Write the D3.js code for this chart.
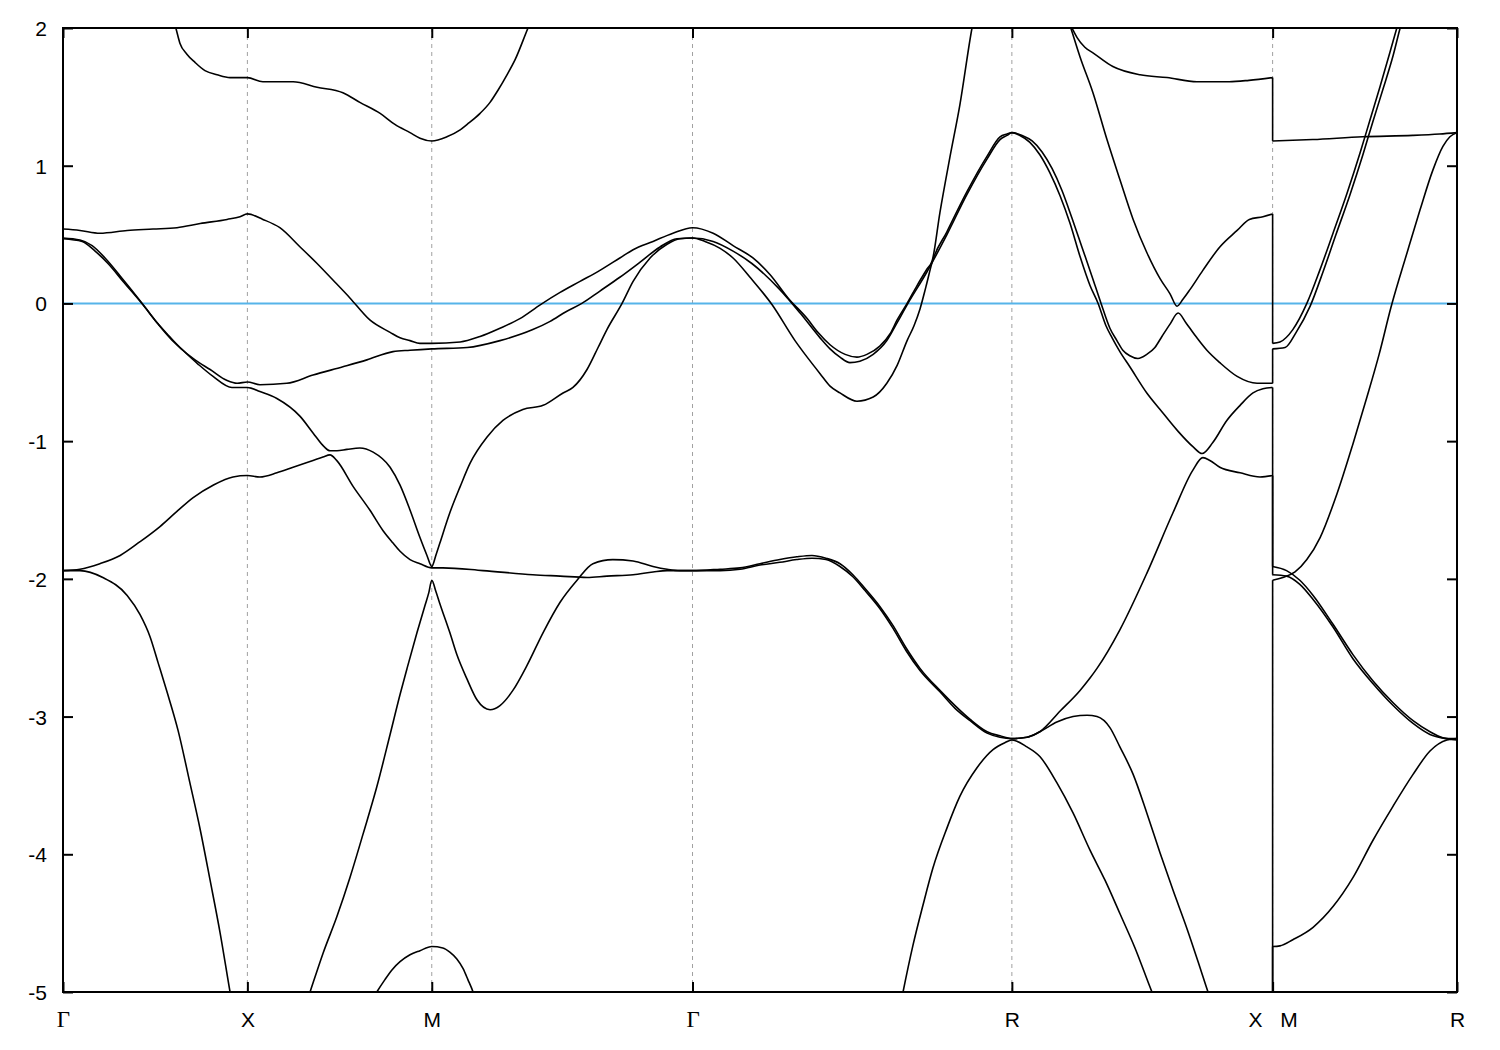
<!DOCTYPE html>
<html><head><meta charset="utf-8">
<script src="https://cdn.jsdelivr.net/npm/d3@7"></script>
<style>body{margin:0;background:#fff}</style>
</head><body>
<svg id="chart" width="1500" height="1050"></svg>
<script>
// high-symmetry path: Γ-X-M-Γ-R-X | M-R  (k-path distance)
const kTicks = [0, 0.5, 1.0, 1.7071, 2.5731, 3.2802, 3.7802];
const kLabels = ["Γ", "X", "M", "Γ", "R", "X\u00a0\u00a0\u00a0M", "R"];
const eTicks = [-5, -4, -3, -2, -1, 0, 1, 2];
const gridK = [0.5, 1.0, 1.7071, 2.5731, 3.2802];
const fermiLevel = 0;

// bands: [k, E(eV)] ; a repeated k marks the X|M discontinuity
const band1 = [[0,2.9],[0.290,2.15],[0.306,2.00],[0.317,1.89],[0.336,1.81],[0.358,1.75],[0.385,1.69],[0.418,1.66],[0.453,1.64],[0.5,1.64],
[0.542,1.61],[0.624,1.61],[0.689,1.57],[0.759,1.53],[0.805,1.46],[0.860,1.38],[0.900,1.30],[0.941,1.24],[0.968,1.20],[1.0,1.18],
[1.041,1.21],[1.077,1.26],[1.096,1.30],[1.131,1.38],[1.158,1.46],[1.180,1.55],[1.204,1.66],[1.226,1.77],[1.261,2.00],[1.280,2.12],
[1.7071,3.4],[2.5731,3.5],[2.717,2.10],[2.736,2.00],[2.750,1.93],[2.771,1.86],[2.793,1.82],[2.847,1.72],[2.921,1.66],[2.994,1.64],[3.075,1.61],[3.162,1.61],[3.216,1.62],[3.2802,1.64],
[3.2802,1.18],[3.389,1.19],[3.524,1.21],[3.660,1.22],[3.733,1.23],[3.7802,1.24]];

const band2 = [[0,0.54],[0.046,0.53],[0.100,0.51],[0.174,0.53],[0.244,0.54],[0.309,0.55],[0.372,0.58],[0.445,0.61],[0.480,0.63],[0.5,0.65],
[0.542,0.61],[0.588,0.55],[0.643,0.41],[0.689,0.29],[0.732,0.17],[0.778,0.04],[0.832,-0.12],[0.887,-0.21],[0.914,-0.25],[0.941,-0.27],[0.968,-0.29],[1.0,-0.29],
[1.077,-0.28],[1.131,-0.24],[1.185,-0.18],[1.239,-0.11],[1.294,-0.01],[1.348,0.08],[1.402,0.16],[1.456,0.24],[1.510,0.33],[1.546,0.39],[1.600,0.45],[1.654,0.51],[1.7071,0.55],
[1.763,0.51],[1.817,0.42],[1.871,0.33],[1.917,0.21],[1.966,0.04],[2.018,-0.11],[2.047,-0.21],[2.080,-0.30],[2.121,-0.37],[2.153,-0.39],[2.180,-0.37],[2.215,-0.31],[2.243,-0.22],[2.262,-0.12],[2.289,0.00],[2.316,0.13],[2.343,0.25],[2.357,0.31],
[2.378,0.66],[2.405,1.06],[2.432,1.44],[2.465,2.00],[2.487,2.28],[2.5731,3.0],[2.709,2.20],[2.733,2.00],[2.758,1.79],[2.793,1.53],[2.831,1.19],[2.866,0.90],[2.902,0.61],[2.939,0.37],[2.975,0.18],[3.002,0.07],[3.021,-0.02],[3.037,0.03],[3.056,0.10],[3.091,0.24],[3.137,0.41],[3.184,0.53],[3.217,0.61],[3.254,0.63],[3.2802,0.65],
[3.2802,-0.29],[3.300,-0.28],[3.335,-0.19],[3.373,0.00],[3.408,0.24],[3.444,0.51],[3.482,0.80],[3.517,1.09],[3.544,1.33],[3.571,1.57],[3.598,1.82],[3.617,2.00],[3.639,2.20],[3.7802,2.9]];

const band3 = [[0,0.475],[0.046,0.46],[0.079,0.42],[0.114,0.33],[0.155,0.20],[0.209,0.02],[0.249,-0.12],[0.282,-0.22],[0.317,-0.32],[0.358,-0.41],[0.399,-0.48],[0.445,-0.56],[0.472,-0.58],[0.5,-0.57],
[0.534,-0.59],[0.607,-0.58],[0.678,-0.52],[0.759,-0.46],[0.824,-0.41],[0.895,-0.35],[0.941,-0.34],[1.0,-0.33],
[1.096,-0.32],[1.185,-0.27],[1.274,-0.19],[1.321,-0.13],[1.364,-0.06],[1.407,0.00],[1.456,0.09],[1.510,0.19],[1.565,0.30],[1.619,0.41],[1.665,0.47],[1.7071,0.475],
[1.763,0.45],[1.817,0.38],[1.868,0.29],[1.944,0.10],[1.999,-0.07],[2.053,-0.25],[2.080,-0.33],[2.107,-0.39],[2.134,-0.43],[2.161,-0.42],[2.197,-0.37],[2.234,-0.27],[2.262,-0.14],[2.289,-0.01],[2.343,0.23],[2.397,0.50],[2.451,0.79],[2.506,1.05],[2.541,1.19],[2.560,1.22],[2.5731,1.24],
[2.601,1.22],[2.628,1.18],[2.655,1.10],[2.682,0.98],[2.709,0.82],[2.736,0.62],[2.763,0.41],[2.790,0.20],[2.815,0.00],[2.839,-0.18],[2.858,-0.27],[2.874,-0.34],[2.893,-0.38],[2.915,-0.40],[2.939,-0.37],[2.961,-0.32],[2.980,-0.24],[3.002,-0.15],[3.024,-0.07],[3.045,-0.14],[3.075,-0.25],[3.102,-0.34],[3.137,-0.43],[3.184,-0.53],[3.238,-0.58],[3.2802,-0.58],
[3.2802,-0.33],[3.314,-0.32],[3.344,-0.21],[3.382,-0.02],[3.417,0.23],[3.452,0.50],[3.490,0.79],[3.525,1.08],[3.552,1.32],[3.580,1.56],[3.607,1.80],[3.626,2.00],[3.653,2.24],[3.7802,3.0]];

const band4 = [[0,0.47],[0.052,0.45],[0.087,0.38],[0.122,0.29],[0.163,0.16],[0.217,-0.01],[0.258,-0.15],[0.290,-0.25],[0.325,-0.34],[0.366,-0.44],[0.407,-0.53],[0.458,-0.61],[0.5,-0.61],
[0.534,-0.64],[0.580,-0.69],[0.643,-0.82],[0.678,-0.94],[0.708,-1.04],[0.724,-1.07],[0.743,-1.07],[0.770,-1.06],[0.805,-1.05],[0.841,-1.08],[0.887,-1.19],[0.914,-1.32],[0.941,-1.50],[0.968,-1.70],[0.987,-1.83],[1.0,-1.91],
[1.011,-1.83],[1.022,-1.74],[1.049,-1.52],[1.077,-1.33],[1.104,-1.16],[1.150,-0.97],[1.193,-0.85],[1.247,-0.77],[1.302,-0.74],[1.356,-0.65],[1.383,-0.61],[1.421,-0.48],[1.451,-0.32],[1.475,-0.19],[1.516,0.00],[1.546,0.16],[1.592,0.33],[1.638,0.43],[1.673,0.47],[1.7071,0.475],
[1.741,0.45],[1.782,0.40],[1.817,0.33],[1.863,0.19],[1.923,-0.01],[1.985,-0.27],[2.018,-0.39],[2.053,-0.51],[2.080,-0.60],[2.107,-0.65],[2.153,-0.71],[2.197,-0.68],[2.234,-0.58],[2.262,-0.45],[2.289,-0.27],[2.308,-0.16],[2.324,-0.04],[2.340,0.12],[2.357,0.30],
[2.397,0.52],[2.451,0.81],[2.506,1.07],[2.541,1.21],[2.560,1.23],[2.5731,1.24],
[2.595,1.22],[2.622,1.17],[2.649,1.08],[2.676,0.95],[2.704,0.78],[2.731,0.58],[2.758,0.34],[2.785,0.13],[2.807,0.00],[2.828,-0.16],[2.845,-0.25],[2.866,-0.35],[2.893,-0.46],[2.939,-0.65],[2.975,-0.77],[3.021,-0.92],[3.064,-1.04],[3.089,-1.09],[3.118,-1.01],[3.156,-0.85],[3.192,-0.74],[3.227,-0.65],[3.254,-0.62],[3.2802,-0.61],
[3.2802,-1.91],[3.318,-1.94],[3.354,-2.01],[3.390,-2.12],[3.444,-2.33],[3.498,-2.55],[3.552,-2.74],[3.607,-2.90],[3.661,-3.03],[3.707,-3.11],[3.753,-3.16],[3.7802,-3.16]];

const band5 = [[0,-1.94],[0.046,-1.93],[0.100,-1.89],[0.155,-1.83],[0.209,-1.73],[0.263,-1.62],[0.309,-1.51],[0.353,-1.41],[0.407,-1.32],[0.461,-1.26],[0.5,-1.25],
[0.534,-1.26],[0.580,-1.23],[0.624,-1.19],[0.678,-1.14],[0.705,-1.115],[0.724,-1.10],[0.742,-1.14],[0.787,-1.33],[0.832,-1.50],[0.868,-1.65],[0.895,-1.74],[0.914,-1.80],[0.941,-1.86],[0.968,-1.89],[1.0,-1.92],
[1.030,-1.92],[1.139,-1.94],[1.274,-1.97],[1.348,-1.98],[1.421,-1.99],[1.475,-1.98],[1.546,-1.97],[1.600,-1.95],[1.638,-1.94],[1.673,-1.94],[1.7071,-1.94],
[1.782,-1.93],[1.836,-1.92],[1.890,-1.89],[1.944,-1.86],[1.990,-1.84],[2.031,-1.83],[2.069,-1.85],[2.107,-1.89],[2.142,-1.97],[2.175,-2.07],[2.215,-2.20],[2.251,-2.34],[2.286,-2.50],[2.324,-2.65],[2.378,-2.81],[2.419,-2.92],[2.460,-3.02],[2.506,-3.11],[2.541,-3.14],[2.5731,-3.16],
[2.614,-3.15],[2.649,-3.11],[2.704,-2.96],[2.758,-2.81],[2.785,-2.72],[2.804,-2.65],[2.866,-2.37],[2.939,-1.96],[3.010,-1.52],[3.064,-1.21],[3.091,-1.12],[3.110,-1.14],[3.137,-1.19],[3.192,-1.23],[3.246,-1.26],[3.2802,-1.25],
[3.2802,-1.97],[3.318,-1.98],[3.354,-2.04],[3.390,-2.15],[3.444,-2.35],[3.498,-2.58],[3.552,-2.76],[3.607,-2.92],[3.661,-3.05],[3.707,-3.13],[3.753,-3.16],[3.7802,-3.17]];

const band6 = [[0,-1.94],[0.046,-1.94],[0.108,-1.99],[0.174,-2.12],[0.209,-2.26],[0.236,-2.42],[0.258,-2.61],[0.282,-2.82],[0.312,-3.10],[0.344,-3.48],[0.372,-3.82],[0.399,-4.19],[0.426,-4.57],[0.453,-5.00],[0.5,-5.7],
[0.643,-5.22],[0.670,-5.00],[0.705,-4.72],[0.743,-4.45],[0.778,-4.17],[0.814,-3.85],[0.851,-3.51],[0.887,-3.13],[0.914,-2.84],[0.933,-2.65],[0.960,-2.39],[0.982,-2.19],[0.992,-2.10],[1.0,-2.01],
[1.011,-2.09],[1.022,-2.18],[1.049,-2.39],[1.068,-2.55],[1.096,-2.73],[1.123,-2.88],[1.158,-2.95],[1.185,-2.92],[1.220,-2.81],[1.258,-2.63],[1.302,-2.39],[1.348,-2.17],[1.394,-2.01],[1.437,-1.89],[1.491,-1.86],[1.546,-1.87],[1.600,-1.91],[1.638,-1.93],[1.673,-1.94],[1.7071,-1.94],
[1.782,-1.94],[1.836,-1.93],[1.890,-1.90],[1.944,-1.88],[1.990,-1.86],[2.031,-1.85],[2.069,-1.86],[2.107,-1.91],[2.142,-1.985],[2.175,-2.085],[2.215,-2.215],[2.251,-2.36],[2.286,-2.52],[2.324,-2.665],[2.378,-2.82],[2.419,-2.94],[2.460,-3.03],[2.506,-3.12],[2.541,-3.15],[2.5731,-3.16],
[2.614,-3.15],[2.649,-3.11],[2.695,-3.04],[2.739,-3.00],[2.777,-2.99],[2.804,-3.00],[2.839,-3.08],[2.866,-3.22],[2.902,-3.42],[2.939,-3.70],[2.975,-3.99],[3.010,-4.26],[3.048,-4.54],[3.083,-4.82],[3.105,-5.00],[3.2802,-5.8],
[3.2802,-2.01],[3.308,-1.99],[3.341,-1.95],[3.373,-1.86],[3.409,-1.70],[3.455,-1.38],[3.498,-1.02],[3.536,-0.68],[3.569,-0.37],[3.601,-0.03],[3.645,0.37],[3.680,0.68],[3.715,0.97],[3.742,1.14],[3.761,1.21],[3.7802,1.24]];

const band7 = [[0,-6.5],[0.5,-6.5],[0.792,-5.31],[0.851,-5.00],[0.873,-4.91],[0.892,-4.84],[0.914,-4.78],[0.941,-4.73],[0.968,-4.70],[1.0,-4.67],
[1.030,-4.68],[1.049,-4.71],[1.068,-4.76],[1.085,-4.83],[1.098,-4.91],[1.112,-5.00],[1.131,-5.17],[1.7071,-6.5],
[2.262,-5.22],[2.278,-5.00],[2.305,-4.66],[2.332,-4.37],[2.359,-4.10],[2.397,-3.81],[2.432,-3.58],[2.479,-3.37],[2.522,-3.24],[2.554,-3.19],[2.5731,-3.17],
[2.614,-3.22],[2.649,-3.29],[2.695,-3.48],[2.739,-3.70],[2.785,-3.97],[2.826,-4.19],[2.866,-4.43],[2.907,-4.68],[2.953,-5.00],[2.988,-5.22],[3.2802,-6.5],
[3.2802,-4.67],[3.300,-4.665],[3.335,-4.62],[3.390,-4.53],[3.444,-4.38],[3.498,-4.17],[3.552,-3.90],[3.607,-3.65],[3.661,-3.42],[3.707,-3.25],[3.753,-3.17],[3.7802,-3.16]];

const bands = [band1, band2, band3, band4, band5, band6, band7];

const W = 1500, H = 1050, L = 63, R = 1457, T = 28, B = 992;
const svg = d3.select("#chart");
const x = d3.scaleLinear().domain([0, 3.7802]).range([L, R]);
const y = d3.scaleLinear().domain([-5, 2]).range([B, T]);

svg.append("rect").attr("width", W).attr("height", H).attr("fill", "#fff");
svg.append("defs").append("clipPath").attr("id", "plotclip")
  .append("rect").attr("x", L).attr("y", T).attr("width", R - L).attr("height", B - T);

// dotted vertical grid at high-symmetry points
svg.append("g").selectAll("line").data(gridK).join("line")
  .attr("x1", d => x(d)).attr("x2", d => x(d))
  .attr("y1", T).attr("y2", B)
  .attr("stroke", "#a0a0a0").attr("stroke-width", 1).attr("stroke-dasharray", "4,4");

// Fermi level
svg.append("line")
  .attr("x1", x(0)).attr("x2", x(3.7802))
  .attr("y1", y(fermiLevel)).attr("y2", y(fermiLevel))
  .attr("stroke", "#56b4e9").attr("stroke-width", 2);

// bands
const gBands = svg.append("g").attr("clip-path", "url(#plotclip)");
const lineGen = d3.line().x(d => x(d[0])).y(d => y(d[1])).curve(d3.curveMonotoneX);
bands.forEach(b => {
  const segs = [[b[0]]];
  const jumps = [];
  for (let i = 1; i < b.length; i++) {
    if (b[i][0] === b[i - 1][0]) { jumps.push([b[i - 1], b[i]]); segs.push([b[i]]); }
    else segs[segs.length - 1].push(b[i]);
  }
  segs.forEach(s => {
    gBands.append("path").attr("d", lineGen(s)).attr("fill", "none")
      .attr("stroke", "#000").attr("stroke-width", 1.6).attr("stroke-linejoin", "round");
  });
  jumps.forEach(j => {
    gBands.append("line")
      .attr("x1", x(j[0][0])).attr("x2", x(j[1][0]))
      .attr("y1", y(j[0][1])).attr("y2", y(j[1][1]))
      .attr("stroke", "#000").attr("stroke-width", 1.6);
  });
});

// inward ticks on all four sides
const tickStyle = g => { g.select(".domain").remove(); g.selectAll(".tick line").attr("stroke", "#000").attr("stroke-width", 2); };
svg.append("g").attr("transform", `translate(${L},0)`).call(d3.axisLeft(y).tickValues(eTicks).tickSize(-10).tickFormat("")).call(tickStyle);
svg.append("g").attr("transform", `translate(${R},0)`).call(d3.axisRight(y).tickValues(eTicks).tickSize(-10).tickFormat("")).call(tickStyle);
svg.append("g").attr("transform", `translate(0,${B})`).call(d3.axisBottom(x).tickValues(kTicks).tickSize(-10).tickFormat("")).call(tickStyle);
svg.append("g").attr("transform", `translate(0,${T})`).call(d3.axisTop(x).tickValues(kTicks).tickSize(-10).tickFormat("")).call(tickStyle);

// frame
svg.append("rect").attr("x", L).attr("y", T).attr("width", R - L).attr("height", B - T)
  .attr("fill", "none").attr("stroke", "#000").attr("stroke-width", 2);

// tick labels (plain hyphen-minus as in the original)
const yAx = svg.append("g").attr("transform", `translate(${L},0)`)
  .call(d3.axisLeft(y).tickValues(eTicks).tickSize(0).tickPadding(16).tickFormat(d => String(d)));
yAx.select(".domain").remove();
yAx.selectAll("text").attr("font-family", "'Liberation Sans', Arial, sans-serif").attr("font-size", 21)
  .attr("fill", "#000").attr("dy", "0.36em");

const xAx = svg.append("g").attr("transform", `translate(0,${B})`)
  .call(d3.axisBottom(x).tickValues(kTicks).tickSize(0).tickFormat((d, i) => kLabels[i]));
xAx.select(".domain").remove();
xAx.selectAll("text").attr("y", 35).attr("dy", 0).attr("fill", "#000")
  .attr("font-family", "'Liberation Sans', Arial, sans-serif").attr("font-size", 21)
  .each(function(d, i) {
    if (kLabels[i] === "Γ") d3.select(this).attr("font-family", "'Liberation Serif', 'DejaVu Serif', serif").attr("font-size", 23);
  });
</script>
</body></html>
